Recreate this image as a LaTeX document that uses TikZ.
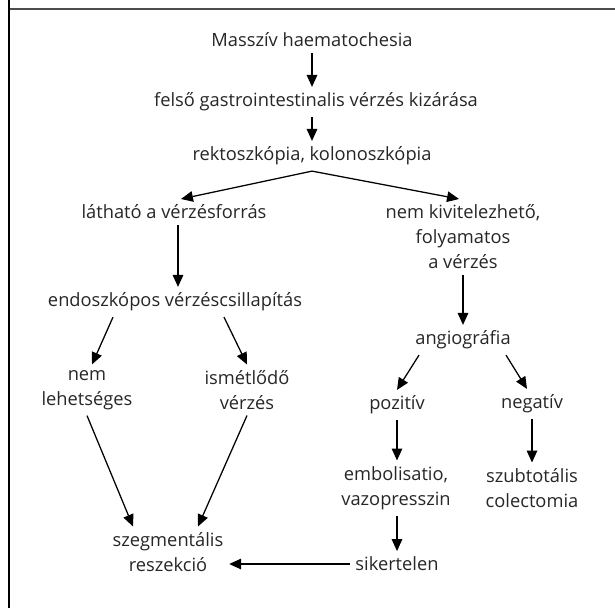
\documentclass[tikz,border=0pt]{standalone}
\usepackage{fontspec}
\setmainfont{Open Sans}
\usetikzlibrary{arrows.meta}

\begin{document}
\begin{tikzpicture}[x=0.025cm, y=-0.025cm,
    box/.style={align=center, inner sep=4pt, text=black!85, font=\fontsize{13}{17.8}\selectfont},
    arr/.style={line width=0.9pt, -{Triangle[length=8.5pt, width=7.5pt]}}]
  % Fix the page size
  \useasboundingbox (0,0) rectangle (615,608);

  % Frame
  \draw[line width=1.4pt, black!70] (9,9) -- (615,9);
  \draw[line width=1.4pt] (9,0) -- (9,608);

  % Top of the chart
  \node[box] (massziv) at (312,40) {Masszív haematochesia};
  \node[box] (felso) at (316,102) {felső gastrointestinalis vérzés kizárása};
  \node[box] (rekto) at (312,156) {rektoszkópia, kolonoszkópia};

  % Left branch
  \node[box] (lathato) at (174,212) {látható a vérzésforrás};
  \node[box] (endo) at (175,302) {endoszkópos vérzéscsillapítás};
  \node[box] (nemleh) at (87,390) {nem\\lehetséges};
  \node[box] (ismet) at (247,390) {ismétlődő\\vérzés};
  \node[box] (szegm) at (168,552) {szegmentális\\reszekció};

  % Right branch
  \node[box] (kivitel) at (463,237) {nem kivitelezhető,\\folyamatos\\a vérzés};
  \node[box] (angio) at (463,340) {angiográfia};
  \node[box] (pozitiv) at (397,405) {pozitív};
  \node[box] (negativ) at (532,404) {negatív};
  \node[box] (embol) at (396,488) {embolisatio,\\vazopresszin};
  \node[box] (szubtot) at (532,488) {szubtotális\\colectomia};
  \node[box] (siker) at (397,564) {sikertelen};

  % Arrows
  \draw[arr] (massziv.south) -- (massziv.south |- felso.north);
  \draw[arr] (felso.south -| rekto.north) -- (rekto.north);
  \draw[arr] (rekto.south) -- ([xshift=7*0.025cm]lathato.north);
  \draw[arr] (rekto.south) -- ([xshift=-4*0.025cm]kivitel.north);
  \draw[arr] ([xshift=4*0.025cm]lathato.south) -- ([xshift=3*0.025cm]endo.north);
  \draw[arr] ([xshift=-62*0.025cm]endo.south) -- ([xshift=5*0.025cm]nemleh.north);
  \draw[arr] ([xshift=49*0.025cm]endo.south) -- (ismet.north);
  \draw[arr] (kivitel.south) -- (angio.north);
  \draw[arr] ([xshift=-44*0.025cm]angio.south) -- (pozitiv.north);
  \draw[arr] ([xshift=43*0.025cm]angio.south) -- ([xshift=-5*0.025cm]negativ.north);
  \draw[arr] (pozitiv.south) -- (pozitiv.south |- embol.north);
  \draw[arr] (negativ.south) -- (negativ.south |- szubtot.north);
  \draw[arr] (nemleh.south) -- ([xshift=-35*0.025cm]szegm.north);
  \draw[arr] (ismet.south) -- ([xshift=30*0.025cm]szegm.north);
  \draw[arr] (embol.south -| siker.north) -- (siker.north);
  \draw[arr] (siker.west) -- (siker.west -| szegm.east);
\end{tikzpicture}
\end{document}
